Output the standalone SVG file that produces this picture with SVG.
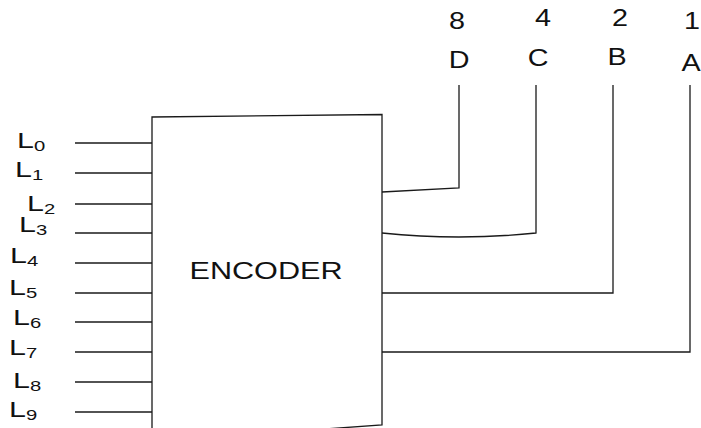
<svg xmlns="http://www.w3.org/2000/svg" width="701" height="428" viewBox="0 0 701 428">
<style>
.ln{fill:none;stroke:#1a1a1a;stroke-width:1.3}
.t{font-family:"Liberation Sans",Arial,sans-serif;fill:#111}
.big{font-size:22.5px}
.sub{font-size:15px}
.top{font-size:23px;text-anchor:middle}
</style>
<rect width="701" height="428" fill="#fff"/>
<g id="encoder">
<polygon class="ln" points="152,117 382,114.5 382,425 152,441"/>
<text class="t" x="266" y="279" font-size="23" text-anchor="middle" textLength="153" lengthAdjust="spacingAndGlyphs">ENCODER</text>
</g>
<g id="inputs">
<g id="in0"><line class="ln" x1="75" y1="143" x2="152" y2="143"/><text class="t" transform="translate(17,148) scale(1.35,1)"><tspan class="big">L</tspan><tspan class="sub" dy="3">0</tspan></text></g>
<g id="in1"><line class="ln" x1="75" y1="173" x2="152" y2="173"/><text class="t" transform="translate(15,177) scale(1.35,1)"><tspan class="big">L</tspan><tspan class="sub" dy="3">1</tspan></text></g>
<g id="in2"><line class="ln" x1="75" y1="204" x2="152" y2="204"/><text class="t" transform="translate(27,211) scale(1.35,1)"><tspan class="big">L</tspan><tspan class="sub" dy="3">2</tspan></text></g>
<g id="in3"><line class="ln" x1="75" y1="233" x2="152" y2="233"/><text class="t" transform="translate(19,232) scale(1.35,1)"><tspan class="big">L</tspan><tspan class="sub" dy="3">3</tspan></text></g>
<g id="in4"><line class="ln" x1="75" y1="263" x2="152" y2="263"/><text class="t" transform="translate(10,263) scale(1.35,1)"><tspan class="big">L</tspan><tspan class="sub" dy="3">4</tspan></text></g>
<g id="in5"><line class="ln" x1="75" y1="293" x2="152" y2="293"/><text class="t" transform="translate(9,295) scale(1.35,1)"><tspan class="big">L</tspan><tspan class="sub" dy="3">5</tspan></text></g>
<g id="in6"><line class="ln" x1="75" y1="322" x2="152" y2="322"/><text class="t" transform="translate(13,325) scale(1.35,1)"><tspan class="big">L</tspan><tspan class="sub" dy="3">6</tspan></text></g>
<g id="in7"><line class="ln" x1="75" y1="352" x2="152" y2="352"/><text class="t" transform="translate(9,355) scale(1.35,1)"><tspan class="big">L</tspan><tspan class="sub" dy="3">7</tspan></text></g>
<g id="in8"><line class="ln" x1="75" y1="382" x2="152" y2="382"/><text class="t" transform="translate(13,388) scale(1.35,1)"><tspan class="big">L</tspan><tspan class="sub" dy="3">8</tspan></text></g>
<g id="in9"><line class="ln" x1="75" y1="412" x2="152" y2="412"/><text class="t" transform="translate(9,417) scale(1.35,1)"><tspan class="big">L</tspan><tspan class="sub" dy="3">9</tspan></text></g>
</g>
<g id="connectors">
<path class="ln" d="M382,192 L459,188 L459,85"/>
<path class="ln" d="M382,233 Q459,241 536,233 L536,85"/>
<path class="ln" d="M382,293 L613,293 L613,85"/>
<path class="ln" d="M382,352 L690,352 L690,85"/>
</g>
<g id="outD"><text class="t top" transform="translate(457,29) scale(1.25,1)">8</text><text class="t top" transform="translate(459,68) scale(1.25,1)">D</text></g>
<g id="outC"><text class="t top" transform="translate(543,26) scale(1.25,1)">4</text><text class="t top" transform="translate(538,66) scale(1.25,1)">C</text></g>
<g id="outB"><text class="t top" transform="translate(620,26) scale(1.25,1)">2</text><text class="t top" transform="translate(617,65) scale(1.25,1)">B</text></g>
<g id="outA"><text class="t top" transform="translate(692,29) scale(1.25,1)">1</text><text class="t top" transform="translate(691,71) scale(1.25,1)">A</text></g>
</svg>
